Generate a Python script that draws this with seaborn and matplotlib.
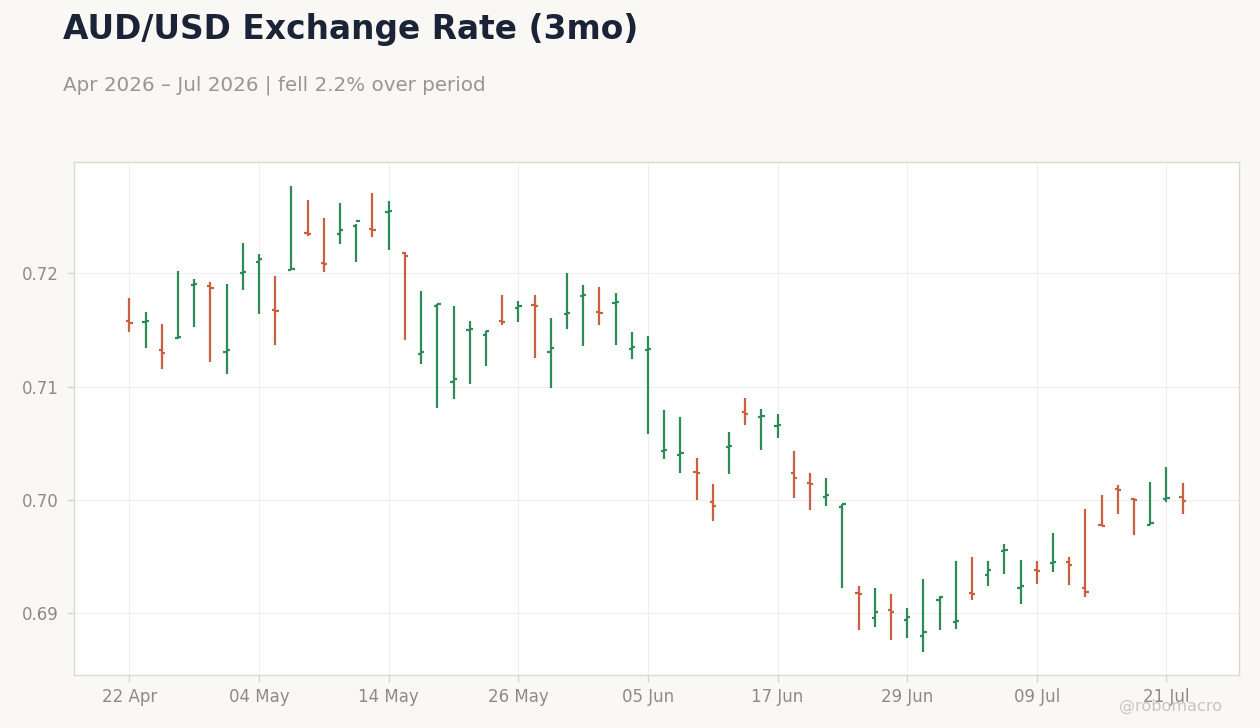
import pandas as pd
import seaborn as sns
import matplotlib.pyplot as plt
from matplotlib.ticker import FixedLocator, FormatStrFormatter

# AUD/USD daily OHLC, business days 22 Apr 2026 - 22 Jul 2026
dates = pd.bdate_range("2026-04-22", "2026-07-22")
opens = [0.7158, 0.7157, 0.7132, 0.7143, 0.7190, 0.7189, 0.7131, 0.7200, 0.7210, 0.7168,
         0.7203, 0.7236, 0.7209, 0.7235, 0.7242, 0.7239, 0.7254, 0.7218, 0.7129, 0.7171,
         0.7104, 0.7150, 0.7146, 0.7158, 0.7169, 0.7172, 0.7131, 0.7164, 0.7180, 0.7166,
         0.7174, 0.7133, 0.7132, 0.7043, 0.7040, 0.7025, 0.6998, 0.7047, 0.7078, 0.7073,
         0.7065, 0.7024, 0.7015, 0.7003, 0.6994, 0.6918, 0.6896, 0.6903, 0.6894, 0.6880,
         0.6912, 0.6892, 0.6918, 0.6934, 0.6955, 0.6922, 0.6938, 0.6944, 0.6945, 0.6922,
         0.6978, 0.7010, 0.7001, 0.6978, 0.7001, 0.7003]
highs = [0.7178, 0.7166, 0.7155, 0.7202, 0.7195, 0.7192, 0.7191, 0.7227, 0.7217, 0.7198,
         0.7277, 0.7265, 0.7249, 0.7262, 0.7244, 0.7271, 0.7264, 0.7219, 0.7184, 0.7173,
         0.7171, 0.7158, 0.7149, 0.7181, 0.7176, 0.7181, 0.7161, 0.7200, 0.7190, 0.7188,
         0.7183, 0.7148, 0.7145, 0.7079, 0.7073, 0.7037, 0.7014, 0.7060, 0.7090, 0.7080,
         0.7076, 0.7043, 0.7024, 0.7019, 0.6996, 0.6924, 0.6922, 0.6917, 0.6905, 0.6930,
         0.6915, 0.6946, 0.6950, 0.6946, 0.6961, 0.6947, 0.6946, 0.6971, 0.6950, 0.6992,
         0.7004, 0.7013, 0.7002, 0.7016, 0.7029, 0.7015]
lows = [0.7148, 0.7134, 0.7116, 0.7142, 0.7153, 0.7122, 0.7111, 0.7185, 0.7164, 0.7137,
        0.7203, 0.7233, 0.7201, 0.7226, 0.7210, 0.7232, 0.7221, 0.7141, 0.7120, 0.7081,
        0.7089, 0.7102, 0.7118, 0.7154, 0.7157, 0.7125, 0.7099, 0.7151, 0.7136, 0.7154,
        0.7137, 0.7124, 0.7058, 0.7036, 0.7024, 0.7000, 0.6981, 0.7023, 0.7066, 0.7044,
        0.7055, 0.7002, 0.6991, 0.6995, 0.6922, 0.6885, 0.6888, 0.6876, 0.6878, 0.6866,
        0.6885, 0.6886, 0.6912, 0.6924, 0.6935, 0.6908, 0.6926, 0.6936, 0.6925, 0.6914,
        0.6977, 0.6988, 0.6969, 0.6978, 0.6998, 0.6988]
closes = [0.7156, 0.7158, 0.7130, 0.7144, 0.7191, 0.7187, 0.7132, 0.7201, 0.7213, 0.7167,
          0.7204, 0.7235, 0.7208, 0.7238, 0.7246, 0.7238, 0.7255, 0.7215, 0.7131, 0.7173,
          0.7107, 0.7151, 0.7149, 0.7157, 0.7171, 0.7171, 0.7134, 0.7165, 0.7181, 0.7165,
          0.7175, 0.7135, 0.7133, 0.7044, 0.7041, 0.7024, 0.6995, 0.7048, 0.7076, 0.7074,
          0.7066, 0.7019, 0.7014, 0.7004, 0.6996, 0.6917, 0.6901, 0.6901, 0.6897, 0.6883,
          0.6914, 0.6893, 0.6917, 0.6938, 0.6956, 0.6924, 0.6937, 0.6945, 0.6943, 0.6919,
          0.6977, 0.7009, 0.7000, 0.6980, 0.7002, 0.6999]

y_ticks = [0.69, 0.70, 0.71, 0.72]
x_tick_step = 8

df = pd.DataFrame({"date": dates, "open": opens, "high": highs,
                   "low": lows, "close": closes})
df["pos"] = range(len(df))
df["up"] = df["close"] >= df["open"]

UP = "#2e8b57"
DOWN = "#c9603f"
BG = "#f9f8f5"

sns.set_theme(style="whitegrid")
plt.rcParams["font.family"] = ["DejaVu Sans"]

fig = plt.figure(figsize=(12.6, 7.28), dpi=100, facecolor=BG)
ax = fig.add_axes([0.059, 0.073, 0.924, 0.704])
ax.set_facecolor("white")

# OHLC bars: high-low line, open tick left, close tick right
colors = [UP if u else DOWN for u in df["up"]]
w = 0.2
ax.vlines(df["pos"], df["low"], df["high"], colors=colors, linewidth=1.6)
ax.hlines(df["open"], df["pos"] - w, df["pos"], colors=colors, linewidth=1.6)
ax.hlines(df["close"], df["pos"], df["pos"] + w, colors=colors, linewidth=1.6)

ax.set_xlim(-3.4, len(df) - 1 + 3.45)
ax.set_ylim(0.68456, 0.7298)

xt = list(range(0, len(df), x_tick_step))
ax.xaxis.set_major_locator(FixedLocator(xt))
ax.set_xticklabels([df["date"][i].strftime("%d %b") for i in xt])
ax.yaxis.set_major_locator(FixedLocator(y_ticks))
ax.yaxis.set_major_formatter(FormatStrFormatter("%.2f"))

ax.grid(True, color="#efefef", linewidth=0.8)
ax.tick_params(axis="both", colors="#d8d4ce", labelcolor="#8f8a85",
               labelsize=12, length=5, width=1, bottom=True, left=True)
ax.tick_params(axis="x", pad=4.5)
ax.tick_params(axis="y", pad=6)
for s in ax.spines.values():
    s.set_color("#ddd8d0")
    s.set_linewidth(1)
ax.set_xlabel("")
ax.set_ylabel("")

fig.text(0.05, 0.946, "AUD/USD Exchange Rate (3mo)", fontsize=23.7, fontweight="bold",
         color="#1b2436", va="baseline")
fig.text(0.05, 0.876, "Apr 2026 \u2013 Jul 2026 | fell 2.2% over period", fontsize=14.3,
         color="#9a9590", va="baseline")
fig.text(0.97, 0.024, "@robomacro", fontsize=11.6, color="#c9c6c1", ha="right",
         va="baseline")

fig.savefig("out.png", dpi=100, facecolor=BG)
